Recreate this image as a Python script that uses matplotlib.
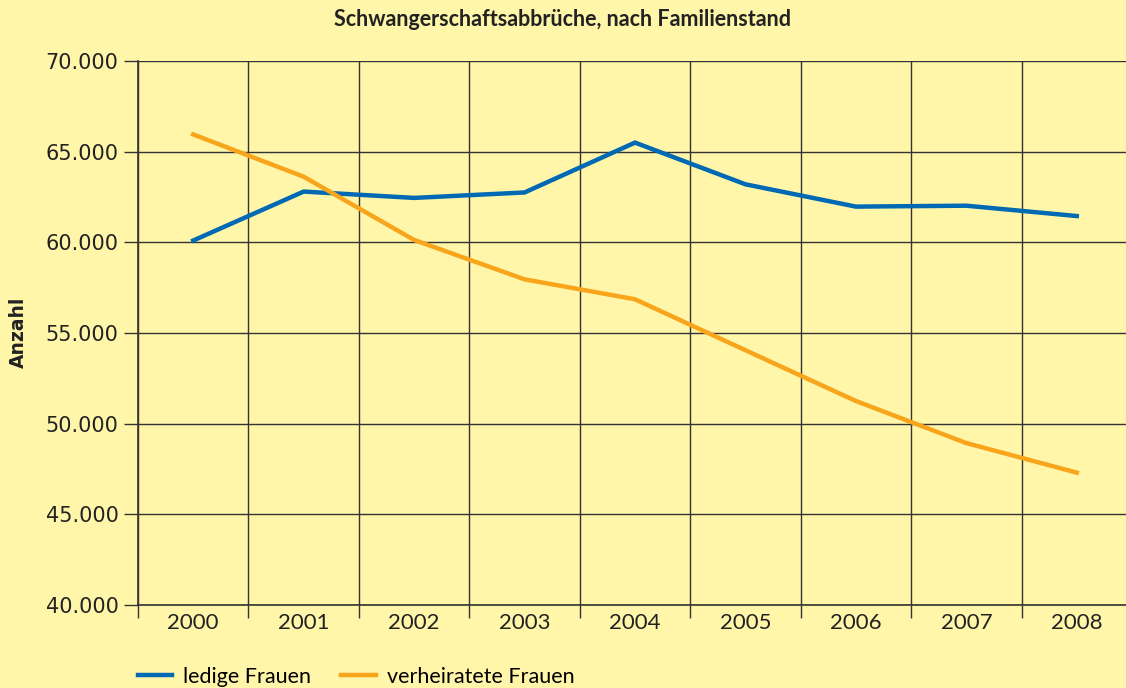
#!/usr/bin/env python3
import matplotlib
matplotlib.use("Agg")
import matplotlib.pyplot as plt
from matplotlib.ticker import FuncFormatter
from matplotlib.lines import Line2D

years = ['2000', '2001', '2002', '2003', '2004', '2005', '2006', '2007', '2008']
ledige = [60100, 62800, 62450, 62750, 65500, 63200, 61970, 62020, 61450]
verheiratete = [65950, 63620, 60130, 57960, 56860, 54050, 51250, 48930, 47300]
y_ticks = [40000, 45000, 50000, 55000, 60000, 65000, 70000]

bg = '#fff6aa'
blue = '#0069b4'
orange = '#f9a51b'
grid_col = '#333333'

fig = plt.figure(figsize=(11.26, 6.88), dpi=100, facecolor=bg)
ax = fig.add_axes([138/1126, 1-605/688, 994/1126, 544/688])
ax.set_facecolor(bg)

x = list(range(len(years)))
ax.plot(x, ledige, color=blue, lw=3.2, solid_joinstyle='miter', zorder=3)
ax.plot(x, verheiratete, color=orange, lw=3.2, solid_joinstyle='miter', zorder=3)

ax.set_xlim(-0.5, len(years) - 0.5)
ax.set_ylim(40000, 70000)

# Jahre in der Mitte, Striche an den Grenzen
ax.set_xticks(x)
ax.set_xticklabels(years, family='Lato', size=16, color='#222222')
ax.set_xticks([i - 0.5 for i in range(len(years) + 1)], minor=True)
ax.tick_params(axis='x', which='major', length=0, pad=6)
ax.tick_params(axis='x', which='minor', length=9, width=1, color=grid_col)

ax.set_yticks(y_ticks)
ax.yaxis.set_major_formatter(FuncFormatter(lambda v, p: f'{int(v):,}'.replace(',', '.')))
ax.tick_params(axis='y', length=10, width=1, color=grid_col, pad=4,
               labelsize=15, labelcolor='#222222')

ax.grid(axis='y', which='major', color=grid_col, lw=1)
ax.grid(axis='x', which='minor', color=grid_col, lw=1)
ax.set_axisbelow(True)
for s in ['top', 'right']:
    ax.spines[s].set_visible(False)
for s in ['left', 'bottom']:
    ax.spines[s].set_color(grid_col)
    ax.spines[s].set_linewidth(1.2)

fig.text(0.5, 1-20/688, 'Schwangerschaftsabbrüche, nach Familienstand',
         ha='center', va='center', family='Lato', weight='bold', size=15.5,
         color='#222222')
fig.text(18/1126, 1-332/688, 'Anzahl', rotation=90, ha='center', va='center',
         weight='bold', size=13.5, color='#222222')

handles = [Line2D([], [], color=blue, lw=3.2), Line2D([], [], color=orange, lw=3.2)]
fig.legend(handles, ['ledige Frauen', 'verheiratete Frauen'], loc='center left',
           bbox_to_anchor=(138/1126, 1-677/688), ncol=2, frameon=False,
           prop={'family': 'Lato', 'size': 15.5}, handlelength=1.6,
           handletextpad=0.5, columnspacing=1.4, borderpad=0, borderaxespad=0)

plt.savefig('out.png', dpi=100, facecolor=bg)
